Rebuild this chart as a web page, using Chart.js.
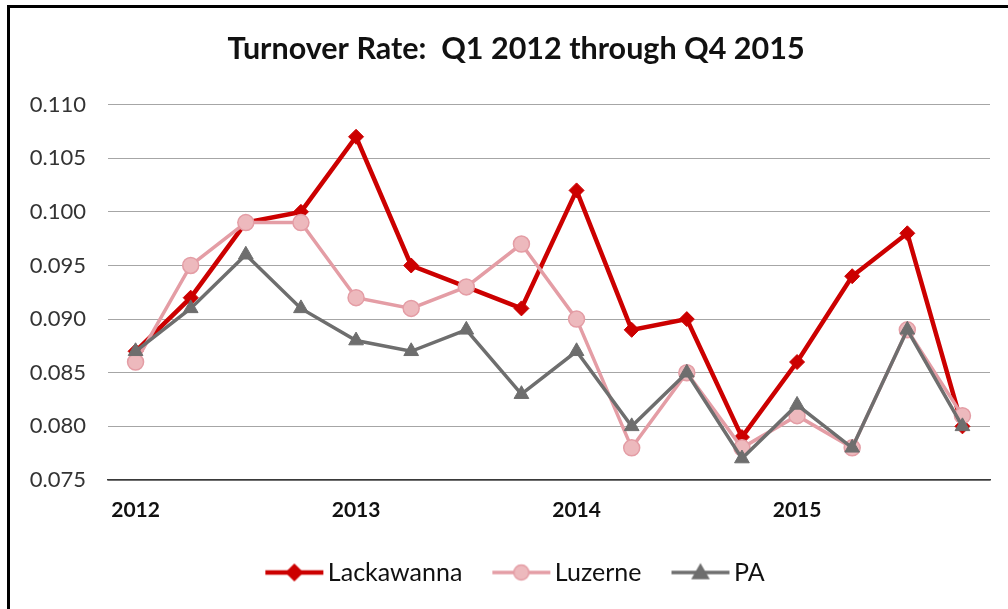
<!DOCTYPE html>
<html>
<head>
<meta charset="utf-8">
<script src="https://cdn.jsdelivr.net/npm/chart.js@4/dist/chart.umd.min.js"></script>
<style>
  html, body { margin: 0; padding: 0; background: #fff; overflow: hidden; }
  #wrap { position: absolute; left: 0; top: 0; width: 1008px; height: 609px; }
  #frame { position: absolute; left: 7px; top: 5px; width: 1100px; height: 700px; border: 3px solid #000; pointer-events: none; }
</style>
</head>
<body>
<div id="wrap"><canvas id="chart" width="1008" height="609"></canvas></div>
<div id="frame"></div>
<script>
// quarters Q1 2012 .. Q4 2015, only Q1 gets a year label
const quarterLabels = ['2012', '', '', '', '2013', '', '', '', '2014', '', '', '', '2015', '', '', ''];

const lackawanna = [0.087, 0.092, 0.099, 0.100, 0.107, 0.095, 0.093, 0.091, 0.102, 0.089, 0.090, 0.079, 0.086, 0.094, 0.098, 0.080];
const luzerne    = [0.086, 0.095, 0.099, 0.099, 0.092, 0.091, 0.093, 0.097, 0.090, 0.078, 0.085, 0.078, 0.081, 0.078, 0.089, 0.081];
const pa         = [0.087, 0.091, 0.096, 0.091, 0.088, 0.087, 0.089, 0.083, 0.087, 0.080, 0.085, 0.077, 0.082, 0.078, 0.089, 0.080];

const yTicks = [0.075, 0.080, 0.085, 0.090, 0.095, 0.100, 0.105, 0.110];

const RED = '#CC0000';
const PINK = '#E49DA5';
const PINK_FILL = '#EDB9BD';
const GRAY = '#6E6E6E';

// legend swatch: line with marker in the middle
function legendSwatch(color, fill, width, shape) {
  const c = document.createElement('canvas');
  c.width = 90; c.height = 30;
  const g = c.getContext('2d');
  const x0 = 30, x1 = 88, cy = 15, cx = (x0 + x1) / 2;
  g.strokeStyle = color;
  g.lineWidth = width;
  g.beginPath(); g.moveTo(x0, cy); g.lineTo(x1, cy); g.stroke();
  g.fillStyle = fill;
  g.beginPath();
  if (shape === 'diamond') {
    g.moveTo(cx, cy - 8); g.lineTo(cx + 8, cy); g.lineTo(cx, cy + 8); g.lineTo(cx - 8, cy); g.closePath();
  } else if (shape === 'circle') {
    g.arc(cx, cy, 7.5, 0, Math.PI * 2);
  } else {
    g.moveTo(cx, cy - 8); g.lineTo(cx + 8, cy + 6); g.lineTo(cx - 8, cy + 6); g.closePath();
  }
  g.fill();
  g.lineWidth = 1.5;
  g.stroke();
  return c;
}

const swatches = [
  legendSwatch(RED, RED, 4.5, 'diamond'),
  legendSwatch(PINK, PINK_FILL, 3.5, 'circle'),
  legendSwatch(GRAY, GRAY, 3.5, 'triangle')
];

// title in the original sits a bit right of the plot-area centre
const shiftTitle = {
  id: 'shiftTitle',
  afterLayout(chart) {
    if (chart.titleBlock) {
      chart.titleBlock.left += 11;
      chart.titleBlock.right += 11;
    }
  }
};

const ctx = document.getElementById('chart').getContext('2d');
new Chart(ctx, {
  type: 'line',
  plugins: [shiftTitle],
  data: {
    labels: quarterLabels,
    datasets: [
      {
        label: 'Lackawanna', data: lackawanna, order: 3,
        borderColor: RED, backgroundColor: RED, borderWidth: 4.5,
        pointStyle: 'rectRot', pointRadius: 7.5, pointBackgroundColor: RED, pointBorderColor: RED, pointBorderWidth: 1
      },
      {
        label: 'Luzerne', data: luzerne, order: 2,
        borderColor: PINK, backgroundColor: PINK_FILL, borderWidth: 3.5,
        pointStyle: 'circle', pointRadius: 8, pointBackgroundColor: PINK_FILL, pointBorderColor: PINK, pointBorderWidth: 1.5
      },
      {
        label: 'PA', data: pa, order: 1,
        borderColor: GRAY, backgroundColor: GRAY, borderWidth: 3.5,
        pointStyle: 'triangle', pointRadius: 8.5, pointBackgroundColor: GRAY, pointBorderColor: GRAY, pointBorderWidth: 1
      }
    ]
  },
  options: {
    responsive: false,
    animation: false,
    layout: { padding: { left: 20, right: 18, top: 0, bottom: 14 } },
    plugins: {
      title: {
        display: true,
        text: 'Turnover Rate:  Q1 2012 through Q4 2015',
        color: '#111',
        font: { family: 'Lato', size: 30.5, weight: 'bold' },
        padding: { top: 31, bottom: 37 }
      },
      legend: {
        position: 'bottom',
        labels: {
          usePointStyle: true,
          pointStyleWidth: 70,
          padding: 10,
          color: '#111',
          font: { family: 'Lato', size: 25 },
          sort: (a, b) => a.datasetIndex - b.datasetIndex,
          generateLabels: chart => chart.data.datasets.map((ds, i) => ({
            text: ds.label,
            datasetIndex: i,
            pointStyle: swatches[i],
            fillStyle: ds.borderColor,
            strokeStyle: ds.borderColor,
            lineWidth: 0,
            hidden: false,
            fontColor: '#111'
          }))
        }
      },
      tooltip: { enabled: false }
    },
    scales: {
      x: {
        offset: true,
        grid: { display: false, drawTicks: false },
        border: { display: true, color: '#3a3a3a', width: 1.5 },
        ticks: {
          autoSkip: false, maxRotation: 0, padding: 18,
          color: '#111',
          font: { family: 'Lato', size: 21, weight: 'bold' }
        },
        afterFit: s => { s.height = 70; }
      },
      y: {
        min: 0.075, max: 0.110,
        afterBuildTicks: s => { s.ticks = yTicks.map(v => ({ value: v })); },
        grid: { color: '#a6a6a6', lineWidth: 1, drawTicks: false },
        border: { display: false },
        ticks: {
          padding: 22,
          color: '#333',
          font: { family: 'Lato', size: 22 },
          callback: v => Number(v).toFixed(3)
        },
        afterFit: s => { s.width = 88; }
      }
    }
  }
});
</script>
</body>
</html>
